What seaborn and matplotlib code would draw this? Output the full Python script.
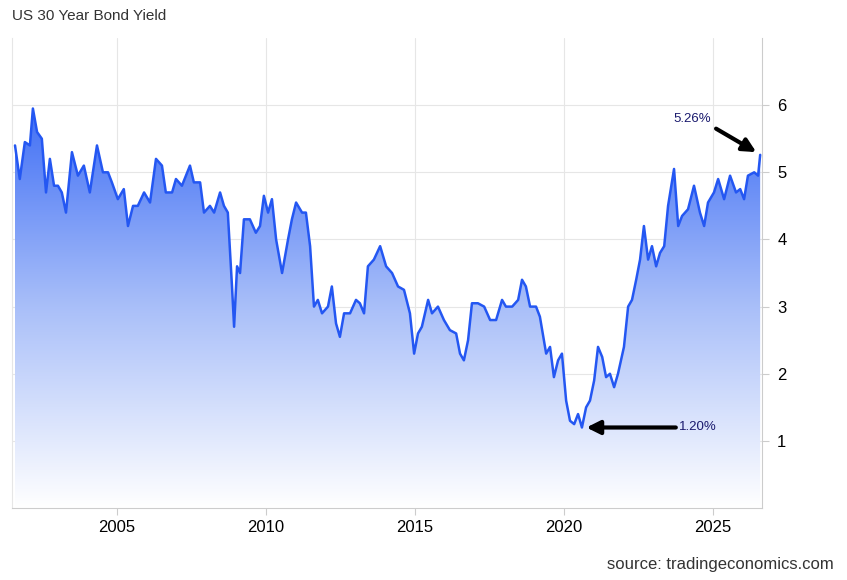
import matplotlib
matplotlib.use("Agg")
import matplotlib.pyplot as plt
import numpy as np
import pandas as pd
import seaborn as sns

# Approximate yield readings (decimal year, percent)
years = [2001.58, 2001.74, 2001.91, 2002.08, 2002.18, 2002.32, 2002.48, 2002.62, 2002.75, 2002.89,
         2003.02, 2003.15, 2003.29, 2003.49, 2003.69, 2003.89, 2004.09, 2004.33, 2004.53, 2004.70,
         2004.83, 2005.03, 2005.23, 2005.37, 2005.54, 2005.70, 2005.91, 2006.11, 2006.31, 2006.51,
         2006.64, 2006.85, 2006.98, 2007.18, 2007.45, 2007.58, 2007.79, 2007.92, 2008.12, 2008.26,
         2008.46, 2008.59, 2008.72, 2008.86, 2008.93, 2009.03, 2009.13, 2009.26, 2009.46, 2009.66,
         2009.80, 2009.93, 2010.07, 2010.20, 2010.34, 2010.54, 2010.74, 2010.87, 2011.01, 2011.21,
         2011.34, 2011.48, 2011.61, 2011.74, 2011.88, 2012.08, 2012.21, 2012.35, 2012.48, 2012.62,
         2012.82, 2013.02, 2013.15, 2013.29, 2013.42, 2013.62, 2013.83, 2014.03, 2014.23, 2014.43,
         2014.63, 2014.83, 2014.97, 2015.10, 2015.23, 2015.44, 2015.57, 2015.77, 2015.97, 2016.17,
         2016.38, 2016.51, 2016.64, 2016.78, 2016.91, 2017.11, 2017.32, 2017.52, 2017.72, 2017.92,
         2018.05, 2018.26, 2018.46, 2018.59, 2018.72, 2018.86, 2019.06, 2019.19, 2019.40, 2019.53,
         2019.66, 2019.80, 2019.93, 2020.07, 2020.20, 2020.34, 2020.47, 2020.60, 2020.74, 2020.87,
         2021.01, 2021.14, 2021.28, 2021.41, 2021.54, 2021.68, 2021.81, 2022.01, 2022.15, 2022.28,
         2022.42, 2022.55, 2022.68, 2022.82, 2022.95, 2023.09, 2023.22, 2023.36, 2023.49, 2023.69,
         2023.83, 2023.96, 2024.16, 2024.36, 2024.56, 2024.70, 2024.83, 2025.03, 2025.17, 2025.37,
         2025.57, 2025.77, 2025.91, 2026.04, 2026.17, 2026.38, 2026.51, 2026.58]
yields = [5.4, 4.9, 5.45, 5.4, 5.95, 5.6, 5.5, 4.7, 5.2, 4.8,
          4.8, 4.7, 4.4, 5.3, 4.95, 5.1, 4.7, 5.4, 5.0, 5.0,
          4.85, 4.6, 4.75, 4.2, 4.5, 4.5, 4.7, 4.55, 5.2, 5.1,
          4.7, 4.7, 4.9, 4.8, 5.1, 4.85, 4.85, 4.4, 4.5, 4.4,
          4.7, 4.5, 4.4, 3.3, 2.7, 3.6, 3.5, 4.3, 4.3, 4.1,
          4.2, 4.65, 4.4, 4.6, 4.0, 3.5, 4.0, 4.3, 4.55, 4.4,
          4.4, 3.9, 3.0, 3.1, 2.9, 3.0, 3.3, 2.75, 2.55, 2.9,
          2.9, 3.1, 3.05, 2.9, 3.6, 3.7, 3.9, 3.6, 3.5, 3.3,
          3.25, 2.9, 2.3, 2.6, 2.7, 3.1, 2.9, 3.0, 2.8, 2.65,
          2.6, 2.3, 2.2, 2.5, 3.05, 3.05, 3.0, 2.8, 2.8, 3.1,
          3.0, 3.0, 3.1, 3.4, 3.3, 3.0, 3.0, 2.85, 2.3, 2.4,
          1.95, 2.2, 2.3, 1.6, 1.3, 1.25, 1.4, 1.2, 1.5, 1.6,
          1.9, 2.4, 2.25, 1.95, 2.0, 1.8, 2.0, 2.4, 3.0, 3.1,
          3.4, 3.7, 4.2, 3.7, 3.9, 3.6, 3.8, 3.9, 4.5, 5.05,
          4.2, 4.35, 4.45, 4.8, 4.4, 4.2, 4.55, 4.7, 4.9, 4.6,
          4.95, 4.7, 4.75, 4.6, 4.95, 5.0, 4.95, 5.26]
year_ticks = [2005, 2010, 2015, 2020, 2025]
yield_ticks = [1, 2, 3, 4, 5, 6]

df = pd.DataFrame({"year": years, "yield": yields})

sns.set_style("white")
plt.rcParams['font.family'] = ['Liberation Sans', 'DejaVu Sans']

fig = plt.figure(figsize=(8.47, 5.8), dpi=100)
ax = fig.add_axes([0.0142, 0.124, 0.8854, 0.8105])

# gradient fill under curve
grad = np.linspace(0, 1, 256).reshape(-1, 1)
cmap = matplotlib.colors.LinearSegmentedColormap.from_list(
    "g", ["#ffffff", "#a9bff9", "#3f6ef5"])
img = ax.imshow(grad, cmap=cmap, aspect="auto", origin="lower",
                extent=[df["year"].min(), df["year"].max(), 0, 6.0], zorder=1)
poly = ax.fill_between(df["year"], df["yield"], 0, color="none")
clip = matplotlib.path.Path.make_compound_path(*poly.get_paths())
img.set_clip_path(clip, ax.transData)

sns.lineplot(data=df, x="year", y="yield", ax=ax, color="#2457f2", linewidth=1.8, zorder=3)

ax.set_xlim(2001.48, 2026.64)
ax.set_ylim(0, 7)
ax.set_xticks(year_ticks)
ax.set_yticks(yield_ticks)
ax.yaxis.tick_right()
ax.grid(True, color="#e6e6e6", linewidth=0.8)
ax.set_axisbelow(True)
ax.spines["top"].set_visible(False)
ax.spines["left"].set_color("#e6e6e6")
ax.spines["bottom"].set_color("#cccccc")
ax.spines["right"].set_color("#cccccc")
ax.tick_params(axis="y", right=True, length=5, color="#cccccc", labelsize=12,
               labelcolor="black", pad=6)
ax.tick_params(axis="x", bottom=True, length=5, color="#cccccc", labelsize=12,
               labelcolor="black")
ax.set_xlabel("")
ax.set_ylabel("")

arrow = dict(arrowstyle="-|>", color="black", lw=3, shrinkA=0, shrinkB=0, mutation_scale=20)
ax.annotate("", xy=(2026.45, 5.3), xytext=(2025.1, 5.65), arrowprops=arrow, zorder=5)
ax.text(2024.3, 5.8, "5.26%", fontsize=9.5, color="#1a1a6e", ha="center", va="center")
ax.annotate("", xy=(2020.75, 1.2), xytext=(2023.75, 1.2), arrowprops=arrow, zorder=5)
ax.text(2024.5, 1.2, "1.20%", fontsize=9.5, color="#1a1a6e", ha="center", va="center")

fig.text(0.014, 0.972, "US 30 Year Bond Yield", fontsize=11, color="#333333", va="center")
fig.text(0.984, 0.027, "source: tradingeconomics.com", fontsize=12, color="#333333",
         ha="right", va="center")

fig.savefig("out.png", dpi=100)
